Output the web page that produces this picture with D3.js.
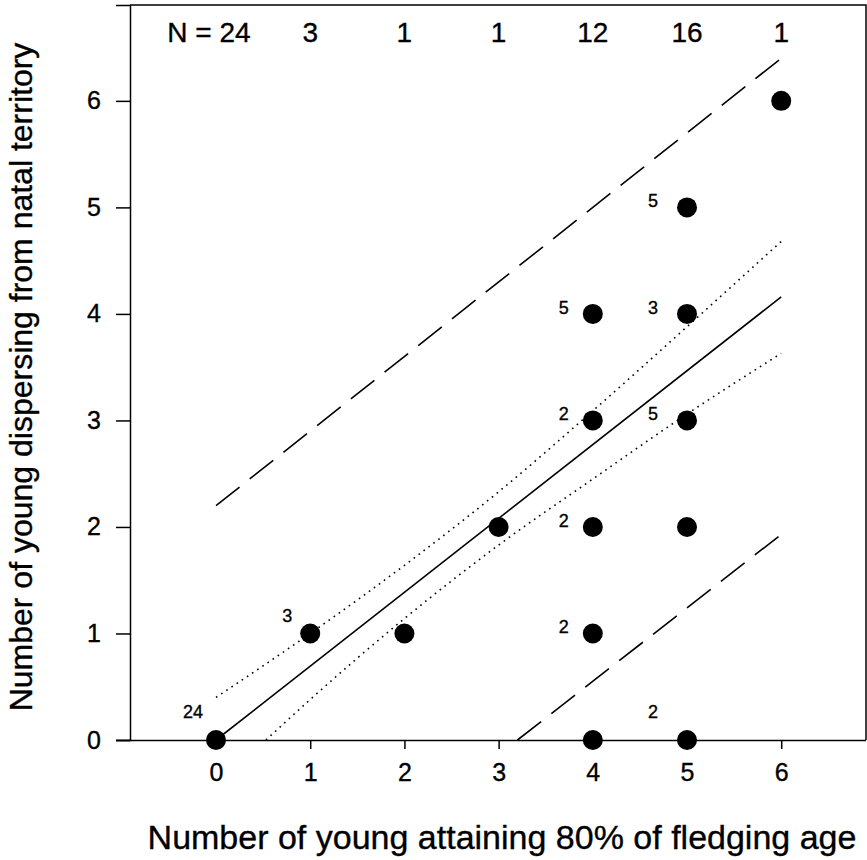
<!DOCTYPE html>
<html>
<head>
<meta charset="utf-8">
<script src="https://cdn.jsdelivr.net/npm/d3@7"></script>
<style>
  body { margin: 0; background: #fff; }
  text { font-family: "Liberation Sans", Arial, sans-serif; fill: #000; stroke: #000; stroke-width: 0.35px; }
</style>
</head>
<body>
<div id="chart"></div>
<script>
var width = 867,
    height = 860;

// observed points (x = young reaching 80% fledging age, y = young dispersing)
var pointX = [0, 1, 2, 3, 4, 4, 4, 4, 4, 5, 5, 5, 5, 5, 6];
var pointY = [0, 1, 1, 2, 0, 1, 2, 3, 4, 0, 2, 3, 4, 5, 6];
var pointN = ["24", "3", "", "", "", "2", "2", "2", "5", "2", "", "5", "3", "5", ""];

// sample sizes along the top
var nX = [0, 1, 2, 3, 4, 5, 6];
var nLabels = ["N = 24", "3", "1", "1", "12", "16", "1"];

// regression line and intervals
var fitX = [0, 6];
var fitY = [0, 4.16];
var ciUpperX = [0, 1, 2, 3, 4, 5, 6];
var ciUpperY = [0.40, 1.00, 1.64, 2.33, 3.09, 3.88, 4.68];
var ciLowerX = [0.53, 1, 2, 3, 4, 5, 6];
var ciLowerY = [0, 0.38, 1.14, 1.83, 2.45, 3.06, 3.63];
var piUpperX = [0, 6];
var piUpperY = [2.2, 6.4];
var piLowerX = [3.2, 6];
var piLowerY = [0, 1.93];

var xTicks = [0, 1, 2, 3, 4, 5, 6];
var yTicks = [0, 1, 2, 3, 4, 5, 6];

var x = d3.scaleLinear().domain([-0.913, 6.9]).range([130, 866]);
var y = d3.scaleLinear().domain([0, 6.9]).range([740, 5]);

var svg = d3.select("#chart").append("svg")
    .attr("width", width)
    .attr("height", height);

// frame: top and right
svg.append("path")
    .attr("d", "M" + x.range()[0] + "," + y(6.9) + "H" + x(6.9) + "V" + y(0))
    .attr("fill", "none")
    .attr("stroke", "#000")
    .attr("stroke-width", 1.5);

var xAxis = svg.append("g")
    .attr("transform", "translate(0," + y(0) + ")")
    .call(d3.axisBottom(x).tickValues(xTicks).tickFormat(d3.format("d")).tickSize(9).tickPadding(14));

var yAxis = svg.append("g")
    .attr("transform", "translate(" + x.range()[0] + ",0)")
    .call(d3.axisLeft(y).tickValues(yTicks).tickFormat(d3.format("d")).tickSize(14).tickPadding(15));

[xAxis, yAxis].forEach(function(g) {
  g.select(".domain").attr("stroke-width", 1.5);
  g.selectAll(".tick line").attr("stroke-width", 1.5);
  g.selectAll(".tick text").style("font-size", "25px").attr("font-family", null);
});
xAxis.select(".domain").attr("d", "M116,0.5H" + x(6.9));

var line = d3.line()
    .x(function(d) { return x(d[0]); })
    .y(function(d) { return y(d[1]); });

function pairs(xs, ys) { return xs.map(function(v, i) { return [v, ys[i]]; }); }

svg.append("path")
    .attr("d", line(pairs(fitX, fitY)))
    .attr("fill", "none").attr("stroke", "#000").attr("stroke-width", 1.6);

[[ciUpperX, ciUpperY], [ciLowerX, ciLowerY]].forEach(function(s) {
  svg.append("path")
      .attr("d", line.curve(d3.curveMonotoneX)(pairs(s[0], s[1])))
      .attr("fill", "none").attr("stroke", "#000").attr("stroke-width", 1.6)
      .attr("stroke-dasharray", "1.6,4.6");
});
line.curve(d3.curveLinear);

[[piUpperX, piUpperY], [piLowerX, piLowerY]].forEach(function(s) {
  svg.append("path")
      .attr("d", line(pairs(s[0], s[1])))
      .attr("fill", "none").attr("stroke", "#000").attr("stroke-width", 1.6)
      .attr("stroke-dasharray", "30,13");
});

svg.selectAll("circle.pt")
    .data(pointX)
  .enter().append("circle")
    .attr("class", "pt")
    .attr("cx", function(d) { return x(d); })
    .attr("cy", function(d, i) { return y(pointY[i]); })
    .attr("r", 10)
    .attr("fill", "#000");

// count labels sit up and to the left of their point
function labelDx(i) { return pointX[i] >= 5 ? -34 : (pointX[i] >= 2 ? -29 : -23); }
function labelDy(i) { return pointY[i] === 0 ? -22 : (pointX[i] === 1 ? -11 : 0); }

svg.selectAll("text.cnt")
    .data(pointN)
  .enter().append("text")
    .attr("class", "cnt")
    .attr("x", function(d, i) { return x(pointX[i]) + labelDx(i); })
    .attr("y", function(d, i) { return y(pointY[i]) + labelDy(i); })
    .attr("text-anchor", "middle")
    .style("font-size", "18px")
    .text(function(d) { return d; });

svg.selectAll("text.n")
    .data(nLabels)
  .enter().append("text")
    .attr("class", "n")
    .attr("x", function(d, i) { return x(nX[i]) + (i === 0 ? -7 : 0); })
    .attr("y", 42)
    .attr("text-anchor", "middle")
    .style("font-size", "28px")
    .text(function(d) { return d; });

svg.append("text")
    .attr("x", 502)
    .attr("y", 849)
    .attr("text-anchor", "middle")
    .style("font-size", "34px")
    .text("Number of young attaining 80% of fledging age");

svg.append("text")
    .attr("transform", "translate(32,377) rotate(-90)")
    .attr("text-anchor", "middle")
    .style("font-size", "32px")
    .text("Number of young dispersing from natal territory");
</script>
</body>
</html>
